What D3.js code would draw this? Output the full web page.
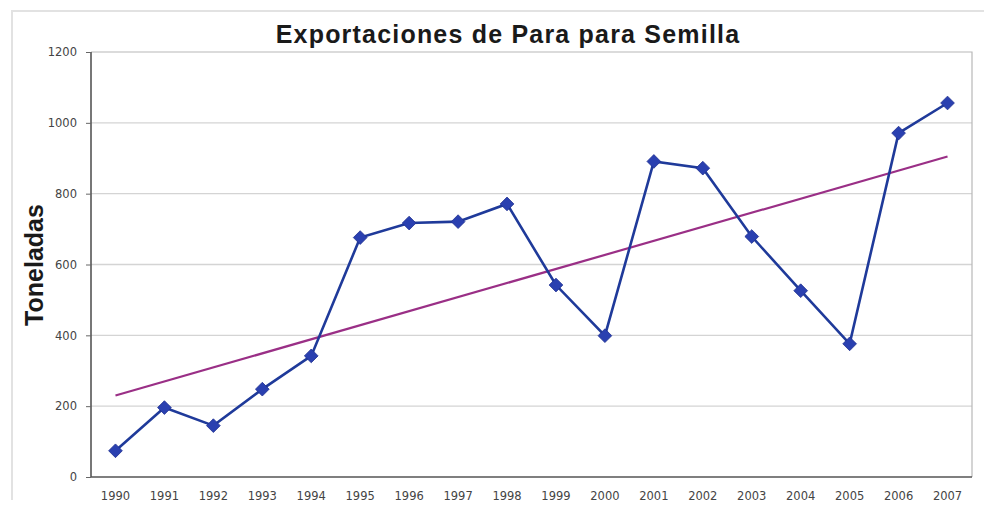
<!DOCTYPE html>
<html><head><meta charset="utf-8">
<script src="https://cdn.jsdelivr.net/npm/d3@7"></script>
<style>body{margin:0;background:#fff}svg{display:block}</style>
</head><body>
<svg id="c" width="984" height="512"></svg>
<script>
const years = ["1990","1991","1992","1993","1994","1995","1996","1997","1998","1999","2000","2001","2002","2003","2004","2005","2006","2007"];
const toneladas = [74,196,145,248,342,676,717,721,771,542,399,891,872,679,526,376,971,1056];
const trendEnds = [230, 905];
const yTicks = [0,200,400,600,800,1000,1200];
const titleText = "Exportaciones de Para para Semilla";
const yLabel = "Toneladas";

const svg = d3.select("#c");
const m = {l:91, r:972, t:52, b:477};
const x = d3.scaleBand().domain(years).range([m.l, m.r]);
const y = d3.scaleLinear().domain([0,1200]).range([m.b, m.t]);
const cx = d => x(d) + x.bandwidth()/2;

// faint outer chart border
svg.append("path").attr("d","M12,500 L12,11 L984,11")
  .attr("fill","none").attr("stroke","#e2e2e2").attr("stroke-width",2);

// grid
svg.append("g").selectAll("line").data(yTicks.slice(1,-1)).join("line")
  .attr("x1",m.l).attr("x2",m.r).attr("y1",d=>y(d)).attr("y2",d=>y(d))
  .attr("stroke","#d4d4d4").attr("stroke-width",1.3);
// top/right border
svg.append("path").attr("d",`M${m.l},${m.t}H${m.r}V${m.b}`)
  .attr("fill","none").attr("stroke","#b8b8b8").attr("stroke-width",1.2);

// axes
const yAxis = svg.append("g").attr("transform",`translate(${m.l},0)`)
  .call(d3.axisLeft(y).tickValues(yTicks).tickFormat(d3.format("d")).tickSize(5).tickPadding(9));
const xAxis = svg.append("g").attr("transform",`translate(0,${m.b})`)
  .call(d3.axisBottom(x).tickSize(0).tickPadding(15));
[yAxis,xAxis].forEach(a=>{
  a.select(".domain").attr("stroke","#555").attr("stroke-width",1.6);
  a.selectAll(".tick line").attr("stroke","#666");
  a.selectAll("text").attr("font-family","DejaVu Sans, sans-serif")
    .attr("font-size",11.5).attr("fill","#444");
});
xAxis.select(".domain").attr("d",`M${m.l},0H${m.r}`);
yAxis.select(".domain").attr("d",`M0,${m.t}V${m.b}`);

// trend line
svg.append("line")
  .attr("x1",cx(years[0])).attr("y1",y(trendEnds[0]))
  .attr("x2",cx(years[years.length-1])).attr("y2",y(trendEnds[1]))
  .attr("stroke","#9a2f86").attr("stroke-width",2.2);

// data line
svg.append("path").datum(toneladas)
  .attr("d", d3.line().x((d,i)=>cx(years[i])).y(d=>y(d)))
  .attr("fill","none").attr("stroke","#1f3a9a").attr("stroke-width",2.6);

// diamond markers
svg.append("g").selectAll("path").data(toneladas).join("path")
  .attr("transform",(d,i)=>`translate(${cx(years[i])},${y(d)})`)
  .attr("d", d3.symbol(d3.symbolDiamond2, 120))
  .attr("fill","#2a40b0").attr("stroke","#1f3090").attr("stroke-width",0.8);

// title
svg.append("text").attr("x",508).attr("y",43).attr("text-anchor","middle")
  .attr("font-family","Liberation Sans, Arial, sans-serif").attr("font-weight","bold")
  .attr("font-size",25).attr("letter-spacing",1.2).attr("fill","#1a1a1a").text(titleText);

// y label
svg.append("text").attr("transform","translate(43,265) rotate(-90)").attr("text-anchor","middle")
  .attr("font-family","Liberation Sans, Arial, sans-serif").attr("font-weight","bold")
  .attr("font-size",25).attr("fill","#1a1a1a").text(yLabel);
</script>
</body></html>
